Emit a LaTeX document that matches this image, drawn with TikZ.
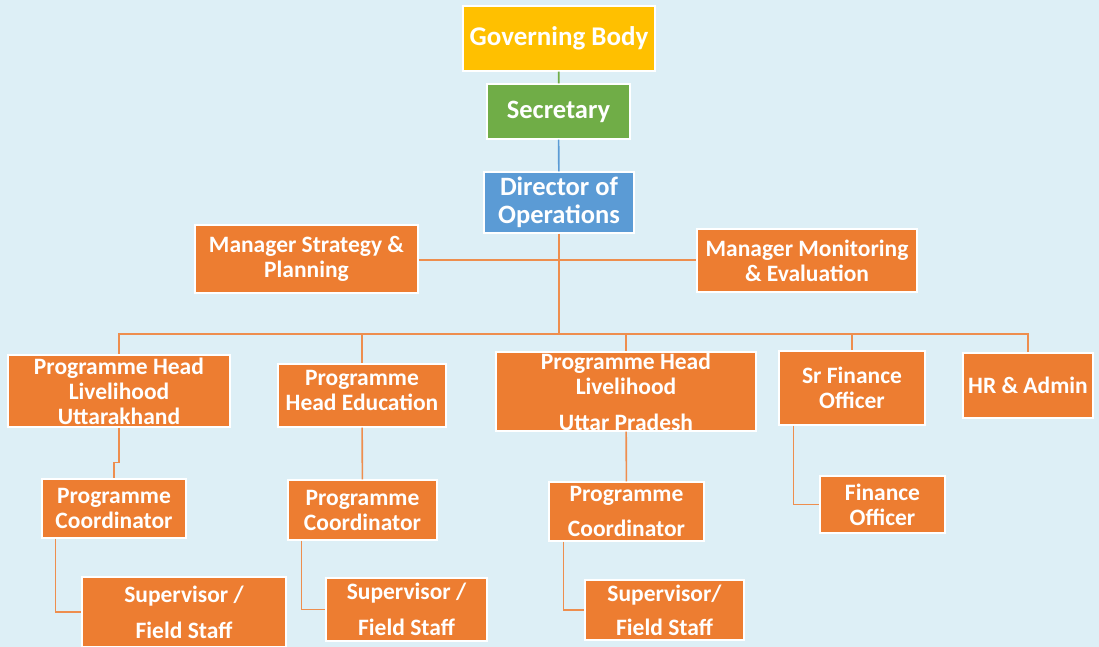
\documentclass[tikz,border=0pt]{standalone}
\usepackage{fontspec}
\setmainfont{Carlito}
\usepackage{tikz}

\definecolor{bgblue}{HTML}{DDEFF6}
\definecolor{govyellow}{HTML}{FFC000}
\definecolor{secgreen}{HTML}{70AD47}
\definecolor{dirblue}{HTML}{5B9BD5}
\definecolor{boxorange}{HTML}{ED7D31}
\definecolor{lineorange}{HTML}{EE8E4E}

\tikzset{
  box/.style={draw=white,line width=1.2pt,text=white,font=\bfseries,align=center,inner sep=0pt},
  bigbox/.style={box,font=\fontsize{27}{28}\selectfont\bfseries},
  midbox/.style={box,font=\fontsize{26.5}{28}\selectfont\bfseries},
  orgbox/.style={box,fill=boxorange,font=\fontsize{23.5}{25}\selectfont\bfseries},
  link/.style={draw=lineorange,line width=1.6pt}
}

\begin{document}
\begin{tikzpicture}[x=1pt,y=-1pt]
\fill[bgblue] (0,0) rectangle (1099,647);
\useasboundingbox (0,0) rectangle (1099,647);

\node[name=Governing-Body,bigbox,fill=govyellow,minimum width=192pt,minimum height=65pt] at (559,38.5) {Governing Body};
\node[name=Secretary,midbox,fill=secgreen,minimum width=143pt,minimum height=55pt] at (558.5,111.5) {Secretary};
\node[name=Director,midbox,fill=dirblue,minimum width=150pt,minimum height=61pt] at (559,202.5) {Director of\\Operations};

\node[name=Manager-Strategy,orgbox,minimum width=223pt,minimum height=68pt] at (306.5,259) {Manager Strategy \&\\Planning};
\node[name=Manager-Monitoring,orgbox,minimum width=220pt,minimum height=63pt] at (807,260.5) {Manager Monitoring\\\& Evaluation};

\node[name=Head-Uttarakhand,orgbox,minimum width=222pt,minimum height=72pt] at (119,391) {Programme Head\\Livelihood\\Uttarakhand};
\node[name=Head-Education,orgbox,minimum width=168pt,minimum height=63pt] at (362,395.5) {Programme\\Head Education\\[-15pt]\mbox{}};
\node[name=Head-UP,orgbox,minimum width=260pt,minimum height=79pt] at (626,391.5) {Programme Head\\Livelihood\\[11pt]Uttar Pradesh};
\node[name=Sr-Finance,orgbox,minimum width=146pt,minimum height=74pt] at (852,388) {Sr Finance\\Officer};
\node[name=HR-Admin,orgbox,minimum width=130pt,minimum height=65pt] at (1028,385.5) {HR \& Admin};

\node[name=Coord-Uttarakhand,orgbox,minimum width=144pt,minimum height=59pt] at (114,508.5) {Programme\\Coordinator};
\node[name=Coord-Education,orgbox,minimum width=149pt,minimum height=60pt] at (362.5,510) {Programme\\Coordinator};
\node[name=Coord-UP,orgbox,minimum width=155pt,minimum height=59pt] at (626.5,511.5) {Programme\\[10pt]Coordinator};
\node[name=Finance-Officer,orgbox,minimum width=125pt,minimum height=57pt] at (882.5,504.5) {Finance\\Officer};

\node[name=Staff-Uttarakhand,orgbox,minimum width=204pt,minimum height=70pt] at (184,612) {Supervisor /\\[11pt]Field Staff};
\node[name=Staff-Education,orgbox,minimum width=161pt,minimum height=63pt] at (406.5,609.5) {Supervisor /\\[11pt]Field Staff};
\node[name=Staff-UP,orgbox,minimum width=159pt,minimum height=60pt] at (664.5,610) {Supervisor/\\[9pt]Field Staff};

\coordinate (Bus) at (559,334);

\draw[draw=secgreen,line width=1.6pt] (Governing-Body) -- (Secretary);
\draw[draw=dirblue,line width=1.6pt] (Secretary) -- (Director);
\draw[link] (Director) -- (Bus);
\draw[link] (Manager-Strategy.east |- 0,260) -- (Manager-Monitoring.west |- 0,260);

\draw[link] (Bus) -| (Head-Uttarakhand.north);
\draw[link] (Bus) -| (Head-Education.north);
\draw[link] (Bus) -| (Head-UP.north);
\draw[link] (Bus) -| (Sr-Finance.north);
\draw[link] (Bus) -| (HR-Admin.north);

\draw[link] (Head-Uttarakhand.south) -- ++(0,35) -| (Coord-Uttarakhand.north);
\draw[link] (Head-Education) -- (Coord-Education);
\draw[link] (Head-UP) -- (Coord-UP);
\draw[link] ([xshift=15pt]Sr-Finance.south west) |- (Finance-Officer.west);

\draw[link] ([xshift=14pt]Coord-Uttarakhand.south west) |- (Staff-Uttarakhand.west);
\draw[link] ([xshift=14pt]Coord-Education.south west) |- (Staff-Education.west);
\draw[link] ([xshift=15pt]Coord-UP.south west) |- (Staff-UP.west);
\end{tikzpicture}
\end{document}
